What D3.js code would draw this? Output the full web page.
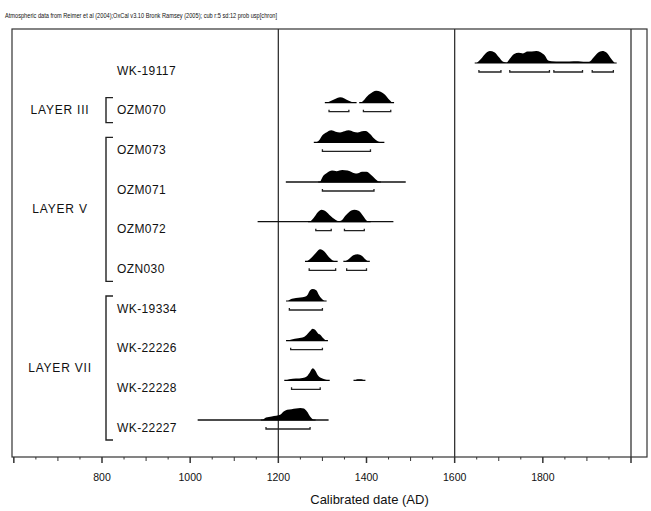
<!DOCTYPE html>
<html><head><meta charset="utf-8">
<script src="https://cdn.jsdelivr.net/npm/d3@7/dist/d3.min.js"></script>
<style>body{margin:0;background:#fff}svg{display:block}text{font-family:"Liberation Sans",Arial,sans-serif;fill:#111}</style>
</head><body>
<script>
const headerText = "Atmospheric data from Reimer et al (2004);OxCal v3.10 Bronk Ramsey (2005); cub r:5 sd:12 prob usp[chron]";
const axisTitle = "Calibrated date (AD)";
const tickLabels = [800, 1000, 1200, 1400, 1600, 1800];
const refLines = [1200, 1600, 2000];

const samples = ["WK-19117","OZM070","OZM073","OZM071","OZM072","OZN030","WK-19334","WK-22226","WK-22228","WK-22227"];

const layers = [
  {name:"LAYER III", first:"OZM070", last:"OZM070"},
  {name:"LAYER V", first:"OZM073", last:"OZN030"},
  {name:"LAYER VII", first:"WK-19334", last:"WK-22227"}
];

// probability distributions: [year, relative density]
const dists = {
 "WK-19117": [[1650,0],[1660,0.35],[1670,0.8],[1680,1.0],[1690,0.9],[1700,0.5],[1710,0.1],[1718,0.05],[1725,0.35],[1735,0.75],[1745,0.85],[1755,0.8],[1765,0.95],[1775,0.95],[1785,1.0],[1795,0.9],[1805,0.6],[1812,0.2],[1820,0.15],[1840,0.13],[1860,0.13],[1880,0.15],[1892,0.1],[1905,0.1],[1915,0.45],[1925,0.85],[1935,1.0],[1945,0.85],[1955,0.35],[1963,0]],
 "OZM070": [[1310,0],[1320,0.15],[1330,0.32],[1340,0.45],[1350,0.35],[1360,0.15],[1368,0.03],[1373,0],[1388,0],[1395,0.25],[1405,0.65],[1415,0.92],[1422,1.0],[1432,0.92],[1442,0.65],[1450,0.3],[1458,0]],
 "OZM073": [[1285,0],[1292,0.15],[1300,0.6],[1310,0.85],[1320,1.0],[1330,0.88],[1340,0.82],[1350,0.92],[1360,1.0],[1370,0.88],[1380,0.82],[1390,0.92],[1398,0.95],[1408,0.7],[1418,0.3],[1428,0.05],[1436,0]],
 "OZM071": [[1295,0],[1300,0.4],[1310,0.75],[1322,0.95],[1332,0.9],[1345,1.0],[1357,0.95],[1368,0.8],[1378,0.7],[1390,0.85],[1400,0.85],[1410,0.6],[1420,0.25],[1428,0]],
 "OZM072": [[1272,0],[1280,0.3],[1290,0.8],[1298,1.0],[1308,0.85],[1318,0.5],[1328,0.2],[1337,0.05],[1343,0.1],[1352,0.5],[1362,0.85],[1372,1.0],[1382,0.9],[1392,0.5],[1400,0.1],[1405,0]],
 "OZN030": [[1265,0],[1275,0.3],[1285,0.7],[1295,1.0],[1305,0.8],[1315,0.35],[1325,0.05],[1330,0],[1352,0],[1360,0.2],[1370,0.5],[1380,0.6],[1390,0.45],[1398,0.15],[1403,0]],
 "WK-19334": [[1222,0],[1228,0.15],[1240,0.25],[1250,0.3],[1260,0.35],[1266,0.5],[1272,0.9],[1278,1.0],[1286,0.9],[1292,0.5],[1298,0.2],[1305,0]],
 "WK-22226": [[1222,0],[1230,0.1],[1245,0.2],[1258,0.3],[1266,0.55],[1272,0.8],[1278,1.0],[1285,0.85],[1290,0.6],[1295,0.5],[1302,0.2],[1308,0]],
 "WK-22228": [[1218,0],[1225,0.1],[1240,0.15],[1255,0.2],[1265,0.35],[1272,0.7],[1278,1.0],[1284,0.8],[1290,0.4],[1300,0.15],[1312,0],[1375,0],[1380,0.1],[1388,0.1],[1393,0]],
 "WK-22227": [[1165,0],[1172,0.2],[1185,0.3],[1195,0.35],[1205,0.45],[1212,0.7],[1220,0.85],[1230,0.9],[1240,0.95],[1250,1.0],[1258,0.95],[1265,0.7],[1272,0.3],[1280,0]]
};

// extended baseline lines
const baselines = {
 "OZM071": [1217,1489],
 "OZM072": [1153,1461],
 "WK-22227": [1017,1314]
};

// 68% ranges
const ranges = {
 "WK-19117": [[1655,1705],[1725,1815],[1825,1890],[1912,1960]],
 "OZM070": [[1315,1360],[1393,1455]],
 "OZM073": [[1300,1409]],
 "OZM071": [[1300,1417]],
 "OZM072": [[1285,1320],[1350,1395]],
 "OZN030": [[1270,1330],[1355,1400]],
 "WK-19334": [[1225,1300]],
 "WK-22226": [[1228,1300]],
 "WK-22228": [[1230,1295]],
 "WK-22227": [[1172,1272]]
};

const W = 651, H = 511;
const frame = {left:12, top:29, right:647, bottom:457};
const svg = d3.select("body").append("svg").attr("width", W).attr("height", H);

const x = d3.scaleLinear().domain([800, 2000]).range([102, 631]);
const y = d3.scalePoint().domain(samples).range([70, 427]);
const h = d3.scaleLinear().domain([0, 1]).range([0, 12]);
const baseOff = -7, rangeOff = 2;

// header
svg.append("text").attr("x", 5).attr("y", 18).attr("font-size", 7.5)
  .attr("textLength", 272).attr("lengthAdjust", "spacingAndGlyphs").text(headerText);

// frame
svg.append("rect").attr("x", frame.left).attr("y", frame.top)
  .attr("width", frame.right - frame.left).attr("height", frame.bottom - frame.top)
  .attr("fill", "none").attr("stroke", "#333").attr("stroke-width", 1.2);

// reference lines
svg.selectAll(".ref").data(refLines).join("line")
  .attr("x1", d => x(d)).attr("x2", d => x(d))
  .attr("y1", frame.top).attr("y2", frame.bottom)
  .attr("stroke", "#333").attr("stroke-width", 1.3);

// axis ticks
const minor = d3.range(600, 2041, 50).filter(v => x(v) > frame.left && x(v) < frame.right);
svg.selectAll(".tk").data(minor).join("line")
  .attr("x1", d => x(d)).attr("x2", d => x(d))
  .attr("y1", frame.bottom).attr("y2", d => frame.bottom + (d % 200 === 0 ? 6 : (d % 100 === 0 ? 4 : 2.5)))
  .attr("stroke", "#333").attr("stroke-width", d => d % 200 === 0 ? 1.5 : 1);

svg.selectAll(".tl").data(tickLabels).join("text")
  .attr("x", d => x(d)).attr("y", frame.bottom + 24)
  .attr("text-anchor", "middle").attr("font-size", 10.5).text(d => d);

svg.append("text").attr("x", (x(1200) + x(1600)) / 2 + 3).attr("y", 504)
  .attr("text-anchor", "middle").attr("font-size", 13).text(axisTitle);

// sample labels
svg.selectAll(".lab").data(samples).join("text")
  .attr("x", 117).attr("y", d => y(d) + 4.5).attr("font-size", 12)
  .attr("letter-spacing", 0.4).text(d => d);

// layer brackets and labels
const bx = 106, bt = 7, pad = 12;
layers.forEach(L => {
  const y0 = y(L.first) - pad, y1 = y(L.last) + pad + 1;
  svg.append("path")
    .attr("d", `M${bx + bt},${y0}H${bx}V${y1}H${bx + bt}`)
    .attr("fill", "none").attr("stroke", "#222").attr("stroke-width", 1.4);
  svg.append("text").attr("x", 60).attr("y", (y(L.first) + y(L.last)) / 2 + 4.5)
    .attr("text-anchor", "middle").attr("font-size", 12).attr("letter-spacing", 0.8).text(L.name);
});

// extended baselines
Object.entries(baselines).forEach(([k, v]) => {
  svg.append("line").attr("x1", x(v[0])).attr("x2", x(v[1]))
    .attr("y1", y(k) + baseOff).attr("y2", y(k) + baseOff)
    .attr("stroke", "#111").attr("stroke-width", 1.3);
});

// split a distribution into non-zero segments
function segments(arr) {
  const out = []; let cur = [];
  arr.forEach((p, i) => {
    cur.push(p);
    if (p[1] === 0 && cur.length > 1) { out.push(cur); cur = [p]; }
  });
  return out.filter(s => s.some(p => p[1] > 0));
}

// distributions
const area = d3.area().x(d => x(d[0])).y1(d => -h(d[1])).y0(0).curve(d3.curveMonotoneX);
samples.forEach(s => {
  const g = svg.append("g").attr("transform", `translate(0,${y(s) + baseOff})`);
  segments(dists[s]).forEach(seg => {
    g.append("path").datum(seg).attr("d", area).attr("fill", "#000");
    g.append("line").attr("x1", x(seg[0][0]) - 2).attr("x2", x(seg[seg.length - 1][0]) + 2)
      .attr("y1", 0).attr("y2", 0).attr("stroke", "#000").attr("stroke-width", 1.2);
  });
  // ranges
  const rg = svg.append("g").attr("transform", `translate(0,${y(s) + rangeOff})`);
  ranges[s].forEach(r => {
    rg.append("path").attr("d", `M${x(r[0])},-2V0H${x(r[1])}V-2`)
      .attr("fill", "none").attr("stroke", "#222").attr("stroke-width", 1.3);
  });
});
</script>
</body></html>
